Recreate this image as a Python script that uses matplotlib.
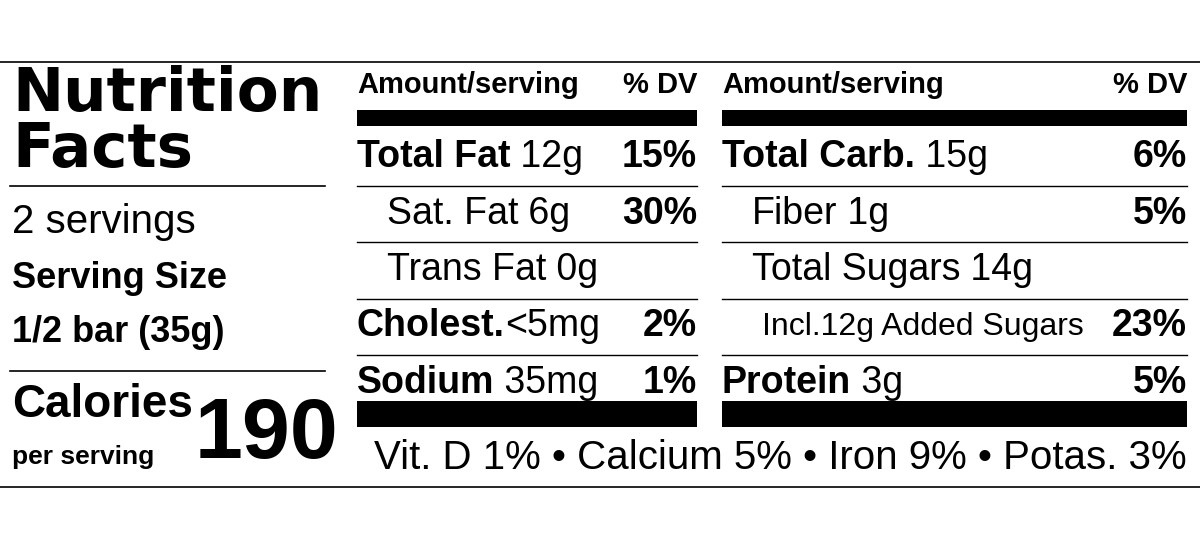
import matplotlib
matplotlib.use("Agg")
import matplotlib.pyplot as plt
from matplotlib import font_manager

names = {f.name for f in font_manager.fontManager.ttflist}
NARROW = ['Liberation Sans Narrow', 'Liberation Sans'] if 'Liberation Sans Narrow' in names else ['Liberation Sans']

# data
left_rows = [("Total Fat", " 12g", "15%", 0), ("Sat. Fat", " 6g", "30%", 1),
             ("Trans Fat", " 0g", "", 1), ("Cholest.", "<5mg", "2%", 0),
             ("Sodium", " 35mg", "1%", 0)]
right_rows = [("Total Carb.", " 15g", "6%", 0), ("Fiber", " 1g", "5%", 1),
              ("Total Sugars", " 14g", "", 1), ("Incl.12g Added Sugars", "", "23%", 2),
              ("Protein", " 3g", "5%", 0)]
servings = "2 servings"
serving_size = "1/2 bar (35g)"
calories = "190"
vitamins = "Vit. D 1% • Calcium 5% • Iron 9% • Potas. 3%"

fig = plt.figure(figsize=(12, 5.48), dpi=100)
ax = fig.add_axes([0, 0, 1, 1])
ax.set_xlim(0, 1200)
ax.set_ylim(548, 0)
ax.axis('off')

K = 'black'
ax.plot([0, 1200], [62, 62], color=K, lw=1.2)
ax.plot([0, 1200], [487, 487], color=K, lw=1.2)
for y in (186, 371):
    ax.plot([10, 325], [y, y], color=K, lw=1.2)

# left panel
ax.text(12, 95, "Nutrition", fontsize=44, fontweight='bold', family='DejaVu Sans', va='center')
ax.text(12, 150, "Facts", fontsize=44, fontweight='bold', family='DejaVu Sans', va='center')
ax.text(12, 222, servings, fontsize=29, family='Liberation Sans', va='center')
ax.text(12, 278, "Serving Size", fontsize=26, fontweight='bold', family='Liberation Sans', va='center')
ax.text(12, 333, serving_size, fontsize=26, fontweight='bold', family='Liberation Sans', va='center')
ax.text(12, 405, "Calories", fontsize=33, fontweight='bold', family=NARROW, va='center')
ax.text(12, 457, "per serving", fontsize=19, fontweight='bold', family='Liberation Sans', va='center')
ax.text(338, 436, calories, fontsize=62, fontweight='bold', family=NARROW, va='center', ha='right')

def column(x0, x1, rows):
    ax.text(x0, 85, "Amount/serving", fontsize=21, fontweight='bold', family='Liberation Sans', va='center')
    ax.text(x1, 85, "% DV", fontsize=21, fontweight='bold', family='Liberation Sans', va='center', ha='right')
    ax.fill_between([x0, x1], 110, 126, color=K, lw=0)
    ax.fill_between([x0, x1], 401, 427, color=K, lw=0)
    for i, (name, amt, dv, ind) in enumerate(rows):
        yc = 157 + i * 56.5
        if i > 0:
            ax.plot([x0, x1], [yc - 28, yc - 28], color=K, lw=1)
        xs = x0 + [0, 30, 40][ind]
        w = 'bold' if ind == 0 else 'normal'
        fs = 23 if ind == 2 else 27
        t = ax.text(xs, yc, name, fontsize=fs, fontweight=w, family=NARROW, va='center')
        if amt:
            ax.annotate(amt, xycoords=t, xy=(1, 0.5), va='center', fontsize=27, family=NARROW)
        if dv:
            ax.text(x1, yc, dv, fontsize=27, fontweight='bold', family=NARROW, va='center', ha='right')

column(357, 697, left_rows)
column(722, 1187, right_rows)
ax.text(1187, 458, vitamins, fontsize=29, family=NARROW, va='center', ha='right')

fig.savefig("out.png", dpi=100, facecolor='white')
